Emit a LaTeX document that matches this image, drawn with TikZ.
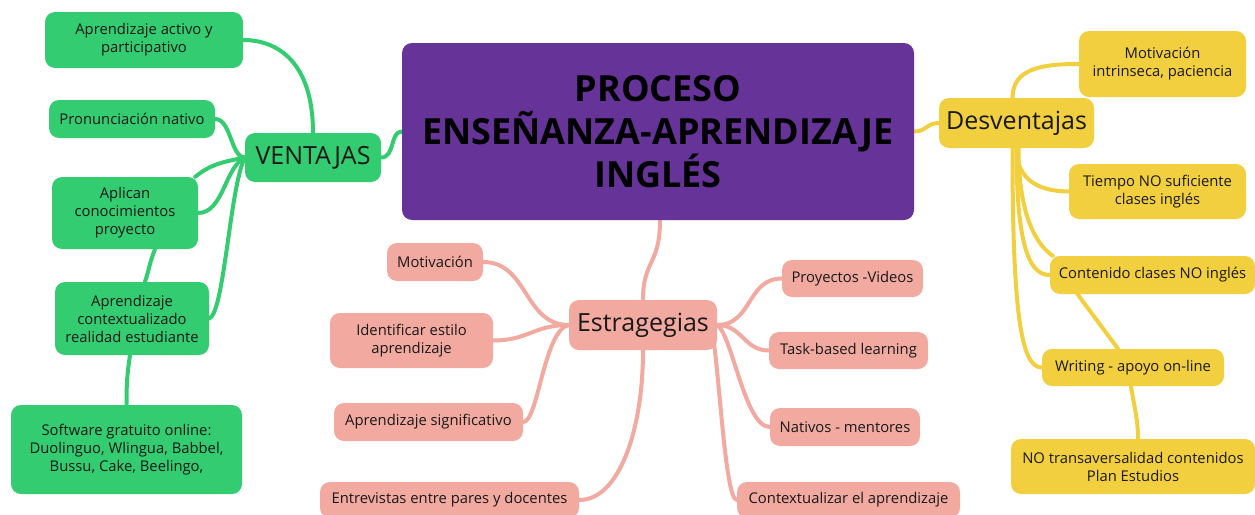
\documentclass[tikz,border=0pt]{standalone}
\usepackage{fontspec}
\setmainfont{Open Sans}
\usetikzlibrary{backgrounds}

\definecolor{mapPurple}{RGB}{102,51,153}
\definecolor{mapGreen}{RGB}{51,204,112}
\definecolor{mapYellow}{RGB}{242,207,63}
\definecolor{mapPink}{RGB}{241,169,160}
\definecolor{mapText}{RGB}{25,25,25}

\tikzset{
  box/.style={rounded corners=10pt, align=center, inner sep=0pt, text=mapText,
    font=\fontsize{14.8}{18}\selectfont},
  hub/.style={font=\fontsize{25}{28}\selectfont},
  vbox/.style={box, fill=mapGreen},
  dbox/.style={box, fill=mapYellow},
  ebox/.style={box, fill=mapPink},
  vlink/.style={mapGreen, line width=4pt, line cap=round},
  dlink/.style={mapYellow, line width=4pt, line cap=round},
  elink/.style={mapPink, line width=4pt, line cap=round},
}

\begin{document}
\begin{tikzpicture}[x=1pt,y=-1pt]
    \useasboundingbox (0,0) rectangle (1255,514);
    %% central topic
    \node[box, fill=mapPurple, text=black, minimum width=512, minimum height=177,
          font=\fontsize{36}{43}\selectfont\bfseries] (main) at (658,131.5)
          {PROCESO\\ENSEÑANZA-APRENDIZAJE\\INGLÉS};
    %% Ventajas
    \node[vbox, hub, minimum width=136, minimum height=49] (ventajas) at (313,157.5) {VENTAJAS};
    \node[vbox, minimum width=198, minimum height=56] (activo) at (144,40) {Aprendizaje activo y\\participativo};
    \node[vbox, minimum width=166, minimum height=38] (pron) at (132,119) {Pronunciación nativo};
    \node[vbox, minimum width=146, minimum height=72] (aplican) at (125,213) {Aplican\\conocimientos\\proyecto};
    \node[vbox, minimum width=154, minimum height=73] (contexto) at (132,318.5) {Aprendizaje\\contextualizado\\realidad estudiante};
    \node[vbox, minimum width=231, minimum height=89] (software) at (126.5,449.5) {Software gratuito online:\\Duolinguo, Wlingua, Babbel,\\Bussu, Cake, Beelingo,};
    %% Desventajas
    \node[dbox, hub, minimum width=155, minimum height=50] (desv) at (1016.5,123) {Desventajas};
    \node[dbox, minimum width=167, minimum height=66] (motint) at (1162.5,64) {Motivación\\intrinseca, paciencia};
    \node[dbox, minimum width=177, minimum height=55] (tiempo) at (1157.5,191.5) {Tiempo NO suficiente\\clases inglés};
    \node[dbox, minimum width=205, minimum height=38] (contenido) at (1152.5,275) {Contenido clases NO inglés};
    \node[dbox, minimum width=182, minimum height=37] (writing) at (1133,367.5) {Writing - apoyo on-line};
    \node[dbox, minimum width=244, minimum height=55] (transv) at (1133,466.5) {NO transaversalidad contenidos\\Plan Estudios};
    %% Estragegias
    \node[ebox, hub, minimum width=148, minimum height=50] (estr) at (643,325) {Estragegias};
    \node[ebox, minimum width=96, minimum height=38] (motiv) at (435,262) {Motivación};
    \node[ebox, minimum width=163, minimum height=55] (estilo) at (411.5,340.5) {Identificar estilo\\aprendizaje};
    \node[ebox, minimum width=189, minimum height=38] (signif) at (428.5,422) {Aprendizaje significativo};
    \node[ebox, minimum width=259, minimum height=36] (entrev) at (449.5,500) {Entrevistas entre pares y docentes};
    \node[ebox, minimum width=141, minimum height=37] (proy) at (852.5,278.5) {Proyectos -Videos};
    \node[ebox, minimum width=159, minimum height=37] (task) at (848.5,350.5) {Task-based learning};
    \node[ebox, minimum width=150, minimum height=38] (nativos) at (845,427) {Nativos - mentores};
    \node[ebox, minimum width=223, minimum height=36] (contextual) at (848.5,500) {Contextualizar el aprendizaje};

    \begin{pgfonlayer}{background}
    %% main branches
    \draw[vlink] (ventajas.east) .. controls +(14,0) and +(-12,0) .. (main.west);
    \draw[dlink] (main.east) .. controls +(12,0) and +(-12,0) .. (desv.west);
    \draw[elink] ([xshift=2]main.south) .. controls +(0,45) and +(0,-40) .. (estr.north);
    %% Ventajas links
    \draw[vlink] (ventajas.north) .. controls +(0,-70) and +(35,0) .. (activo.east);
    \draw[vlink] (ventajas.west) .. controls +(-14,0) and +(16,0) .. (pron.east);
    \draw[vlink] (ventajas.west) .. controls +(-25,5) and +(15,-12) .. ([xshift=-3]aplican.north east);
    \draw[vlink] (ventajas.west) .. controls +(-20,10) and +(25,0) .. (aplican.east);
    \draw[vlink] (ventajas.west) .. controls +(-15,30) and +(15,-5) .. (contexto.east);
    \draw[vlink] ([xshift=30]aplican.south) .. controls +(-5,12) and +(4,-12) .. ([xshift=13]contexto.north);
    \draw[vlink] ([xshift=-2]contexto.south) .. controls +(-3,20) and +(0,-20) .. (software.north);
    %% Desventajas links
    \draw[dlink] ([xshift=-4]desv.north) .. controls +(0,-30) and +(-35,0) .. (motint.west);
    \draw[dlink] (desv.south) .. controls +(0,35) and +(-25,0) .. (tiempo.west);
    \draw[dlink] ([xshift=2]desv.south) .. controls +(0,70) and +(-15,-10) .. ([xshift=3]contenido.north west);
    \draw[dlink] (desv.south) .. controls +(0,100) and +(-20,0) .. (contenido.west);
    \draw[dlink] ([xshift=-4]desv.south) .. controls +(0,170) and +(-20,0) .. (writing.west);
    \draw[dlink] ([xshift=-75]contenido.south) -- ([xshift=-15]writing.north);
    \draw[dlink] ([xshift=-2]writing.south) .. controls +(3,20) and +(0,-20) .. ([xshift=5]transv.north);
    %% Estragegias links
    \draw[elink] (estr.west) .. controls +(-45,0) and +(45,0) .. (motiv.east);
    \draw[elink] (estr.west) .. controls +(-35,0) and +(35,0) .. (estilo.east);
    \draw[elink] (estr.west) .. controls +(-25,5) and +(15,0) .. (signif.east);
    \draw[elink] (estr.south) .. controls +(0,80) and +(40,0) .. (entrev.east);
    \draw[elink] (estr.east) .. controls +(35,0) and +(-35,0) .. (proy.west);
    \draw[elink] (estr.east) .. controls +(25,0) and +(-25,0) .. (task.west);
    \draw[elink] (estr.east) .. controls +(15,10) and +(-25,0) .. (nativos.west);
    \draw[elink] ([xshift=-6]estr.east) .. controls +(8,40) and +(-12,0) .. (contextual.west);
    \end{pgfonlayer}
\end{tikzpicture}
\end{document}
